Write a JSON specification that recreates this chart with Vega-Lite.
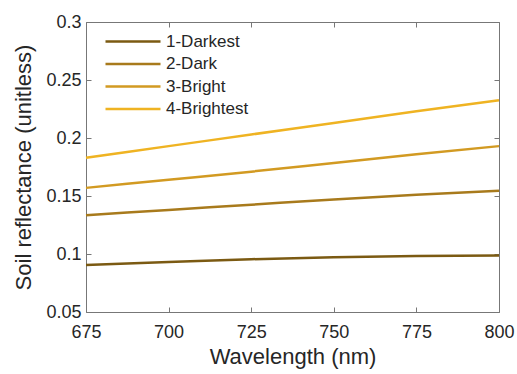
{
  "$schema": "https://vega.github.io/schema/vega-lite/v6.json",
  "width": 413,
  "height": 290,
  "autosize": "none",
  "padding": {"left": 86, "top": 22, "right": 18, "bottom": 62},
  "background": "white",
  "config": {
    "font": "Liberation Sans",
    "view": {"stroke": null},
    "axis": {
      "grid": false,
      "domainColor": "#777777",
      "tickColor": "#777777",
      "tickSize": -5,
      "labelFont": "Liberation Sans",
      "titleFont": "Liberation Sans",
      "labelColor": "#262626",
      "titleColor": "#262626",
      "labelFontSize": 18,
      "titleFontSize": 22,
      "titleFontWeight": "normal"
    }
  },
  "data": {
    "values": [
      {"wl": 675, "r": 0.0905, "s": "1-Darkest"},
      {"wl": 700, "r": 0.0930, "s": "1-Darkest"},
      {"wl": 725, "r": 0.0955, "s": "1-Darkest"},
      {"wl": 750, "r": 0.0973, "s": "1-Darkest"},
      {"wl": 775, "r": 0.0983, "s": "1-Darkest"},
      {"wl": 800, "r": 0.0988, "s": "1-Darkest"},
      {"wl": 675, "r": 0.1335, "s": "2-Dark"},
      {"wl": 700, "r": 0.1380, "s": "2-Dark"},
      {"wl": 725, "r": 0.1425, "s": "2-Dark"},
      {"wl": 750, "r": 0.1470, "s": "2-Dark"},
      {"wl": 775, "r": 0.1510, "s": "2-Dark"},
      {"wl": 800, "r": 0.1545, "s": "2-Dark"},
      {"wl": 675, "r": 0.1570, "s": "3-Bright"},
      {"wl": 700, "r": 0.1640, "s": "3-Bright"},
      {"wl": 725, "r": 0.1710, "s": "3-Bright"},
      {"wl": 750, "r": 0.1785, "s": "3-Bright"},
      {"wl": 775, "r": 0.1860, "s": "3-Bright"},
      {"wl": 800, "r": 0.1930, "s": "3-Bright"},
      {"wl": 675, "r": 0.1830, "s": "4-Brightest"},
      {"wl": 700, "r": 0.1930, "s": "4-Brightest"},
      {"wl": 725, "r": 0.2030, "s": "4-Brightest"},
      {"wl": 750, "r": 0.2130, "s": "4-Brightest"},
      {"wl": 775, "r": 0.2230, "s": "4-Brightest"},
      {"wl": 800, "r": 0.2325, "s": "4-Brightest"}
    ]
  },
  "layer": [
    {
      "mark": {"type": "line", "strokeWidth": 2.5, "interpolate": "monotone"},
      "encoding": {
        "x": {
          "field": "wl", "type": "quantitative",
          "scale": {"domain": [675, 800], "nice": false},
          "axis": {"title": "Wavelength (nm)", "values": [675, 700, 725, 750, 775, 800], "format": "d", "labelPadding": 16, "titlePadding": 5, "labelFlush": false}
        },
        "y": {
          "field": "r", "type": "quantitative",
          "scale": {"domain": [0.05, 0.3], "nice": false, "zero": false},
          "axis": {"title": "Soil reflectance (unitless)", "values": [0.05, 0.1, 0.15, 0.2, 0.25, 0.3], "labelExpr": "format(datum.value, '~g')", "labelPadding": 10, "titlePadding": 10}
        },
        "color": {
          "field": "s", "type": "nominal",
          "scale": {"domain": ["1-Darkest", "2-Dark", "3-Bright", "4-Brightest"], "range": ["#7b5a12", "#a87a1c", "#d29a22", "#efb322"]},
          "legend": {
            "title": null,
            "orient": "none",
            "legendX": 11,
            "legendY": 11,
            "symbolType": "M0,0H10",
            "symbolSize": 121,
            "symbolStrokeWidth": 2.5,
            "symbolFillColor": "transparent",
            "labelFontSize": 17,
            "labelFont": "Liberation Sans",
            "labelColor": "#262626",
            "rowPadding": 4.5,
            "labelOffset": 52
          }
        }
      }
    },
    {
      "mark": {"type": "line", "opacity": 0},
      "encoding": {
        "x": {"field": "wl", "type": "quantitative", "axis": {"orient": "top", "title": null, "labels": false, "values": [675, 700, 725, 750, 775, 800]}},
        "y": {"field": "r", "type": "quantitative", "axis": {"orient": "right", "title": null, "labels": false, "values": [0.05, 0.1, 0.15, 0.2, 0.25, 0.3]}}
      }
    }
  ],
  "resolve": {"axis": {"x": "independent", "y": "independent"}}
}
